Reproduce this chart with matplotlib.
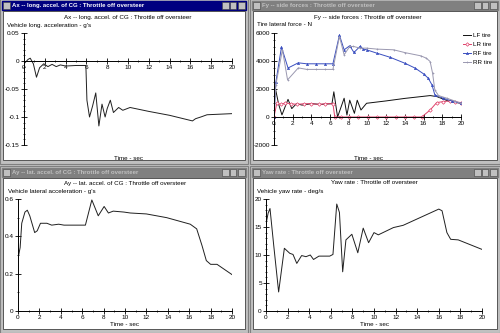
import matplotlib.pyplot as plt
from matplotlib.patches import Rectangle
from matplotlib.ticker import MultipleLocator, FuncFormatter

plt.rcParams['font.family'] = ['Liberation Sans', 'DejaVu Sans']

# --- data ---
# Ax, long. accel (g's)
ax_t = [0, 0.4, 0.6, 0.9, 1.2, 1.5, 1.9, 2.3, 2.7, 3.1, 3.5, 4.0, 5.0, 5.95, 6.05,
        6.3, 6.6, 6.9, 7.2, 7.5, 7.8, 8.0, 8.3, 8.6, 9.1, 9.5, 10.2, 12, 14, 16.2,
        16.5, 17.0, 17.6, 20]
ax_g = [-0.005, 0.003, 0.005, -0.005, -0.029, -0.012, -0.005, -0.010, -0.006, -0.010,
        -0.007, -0.009, -0.008, -0.008, -0.07, -0.1, -0.08, -0.057, -0.116, -0.077,
        -0.1, -0.085, -0.07, -0.092, -0.083, -0.088, -0.083, -0.09, -0.097, -0.107,
        -0.103, -0.1, -0.096, -0.094]

# Fy, side forces (N)
lf_t = [0, 0.1, 0.5, 0.85, 1.5, 1.9, 2.4, 3, 4, 5, 6.2, 6.4, 6.8, 7.5, 7.8, 8.1,
        8.6, 8.9, 9.3, 9.9, 12, 14, 16.7, 17.4, 18.8, 20]
lf_n = [0, 2200, 900, 150, 1260, 600, 950, 850, 950, 900, 950, 1800, 0, 1340, 140,
        1200, 260, 1200, 500, 980, 1150, 1330, 1530, 1460, 1100, 980]
lr_t = [0, 0.3, 0.7, 1.2, 1.8, 2.5, 3.2, 4, 4.8, 5.5, 6.3, 6.5, 7.2, 8, 9, 10, 11,
        12, 13, 14, 15, 15.8, 16.7, 17.4, 18.1, 18.8, 19.4, 20]
lr_n = [0, 1000, 900, 1000, 950, 900, 950, 950, 900, 950, 950, 0, 0, 0, 0, 0, 0, 0,
        0, 0, 0, 0, 500, 1030, 1100, 1150, 1080, 1030]
rf_t = [0, 0.2, 0.8, 1.5, 2.6, 3.5, 4.5, 5.5, 6.3, 7.0, 7.5, 8.1, 8.55, 9.2, 9.55,
        9.9, 11, 12.4, 14, 15.1, 16, 16.5, 16.9, 17.2, 18.1, 19, 20]
rf_n = [0, 2500, 5000, 3500, 3870, 3800, 3800, 3800, 3800, 5850, 4800, 5090, 4610,
        5040, 4850, 4800, 4560, 4270, 3840, 3490, 3080, 2770, 2290, 1580, 1340, 1150, 980]
rr_t = [0, 0.2, 0.9, 1.45, 2.6, 3.5, 4.5, 5.5, 6.3, 7.0, 7.5, 8.1, 8.5, 9.2, 9.9,
        11, 12.8, 14, 15.7, 16.3, 16.7, 16.96, 17.2, 17.6, 18.5, 19.3, 20]
rr_n = [0, 2300, 4800, 2650, 3510, 3400, 3400, 3400, 3400, 5750, 4440, 5040, 5040,
        4920, 4920, 4850, 4800, 4600, 4370, 4200, 3960, 3130, 1930, 1530, 1340, 1150, 980]

# Ay, lat. accel (g's)
ay_t = [0, 0.2, 0.35, 0.65, 0.87, 1.1, 1.56, 1.8, 2.1, 2.7, 3.15, 3.8, 4.3, 5.5, 6.3,
        6.9, 7.5, 8.05, 8.45, 8.9, 9.9, 10.5, 12, 13.9, 16.1, 16.7, 17.2, 17.6, 18.0,
        18.6, 20]
ay_g = [0.28, 0.34, 0.47, 0.53, 0.54, 0.51, 0.42, 0.43, 0.47, 0.47, 0.46, 0.465,
        0.46, 0.46, 0.46, 0.595, 0.51, 0.56, 0.525, 0.535, 0.53, 0.525, 0.52, 0.50,
        0.465, 0.44, 0.35, 0.27, 0.25, 0.25, 0.195]

# Yaw rate (deg/s)
yaw_t = [0, 0.2, 0.37, 0.7, 1.17, 1.7, 2.2, 2.5, 2.85, 3.3, 3.7, 4.1, 4.4, 4.9, 5.9,
         6.2, 6.55, 6.8, 7.1, 7.4, 7.95, 8.5, 9.0, 9.5, 10.0, 10.4, 11.8, 12.7, 16.0,
         16.3, 16.75, 17.1, 17.8, 20]
yaw_d = [15.5, 17.5, 18.3, 12.0, 3.4, 11.2, 10.3, 10.1, 8.5, 9.9, 9.7, 10.0, 9.2,
         9.8, 9.8, 10.1, 19.1, 17.6, 7.0, 12.7, 13.7, 10.4, 14.8, 12.2, 14.0, 13.6,
         14.9, 15.3, 18.2, 17.9, 14.0, 12.8, 12.7, 11.0]

W, H = 500, 333
fig = plt.figure(figsize=(5, 3.33), dpi=100)
bg = fig.add_axes([0, 0, 1, 1])
bg.set_xlim(0, W)
bg.set_ylim(H, 0)
bg.axis('off')
bg.add_patch(Rectangle((0, 0), W, H, color='#c0c0c0'))


def window(x0, y0, x1, y1, caption, active):
    bg.add_patch(Rectangle((x0, y0), x1 - x0, y1 - y0, facecolor='#c0c0c0',
                           edgecolor='#808080', lw=0.8))
    bar = '#000080' if active else '#808080'
    txt = 'white' if active else '#c0c0c0'
    bg.add_patch(Rectangle((x0 + 2, y0 + 2), x1 - x0 - 4, 9, color=bar))
    bg.add_patch(Rectangle((x0 + 3, y0 + 3), 7, 7, facecolor='#c0c0c0',
                           edgecolor='#404040', lw=0.4))
    bg.text(x0 + 12, y0 + 6.7, caption, color=txt, fontsize=4.3,
            fontweight='bold', va='center')
    for i in range(3):
        bx = x1 - 26 + i * 7.5 + (1 if i == 2 else 0)
        bg.add_patch(Rectangle((bx, y0 + 3), 6.5, 7, facecolor='#c0c0c0',
                               edgecolor='#404040', lw=0.4))
    bg.add_patch(Rectangle((x0 + 3, y0 + 12), x1 - x0 - 6, y1 - y0 - 16,
                           facecolor='white', edgecolor='#404040', lw=0.6))


window(0, -1, 248, 164, 'Ax -- long. accel. of CG : Throttle off oversteer', True)
window(250, -1, 500, 164, 'Fy -- side forces : Throttle off oversteer', False)
window(0, 166, 248, 333, 'Ay -- lat. accel. of CG : Throttle off oversteer', False)
window(250, 166, 500, 333, 'Yaw rate : Throttle off oversteer', False)


def px_axes(x0, ytop, x1, ybot):
    a = fig.add_axes([x0 / W, 1 - ybot / H, (x1 - x0) / W, (ybot - ytop) / H])
    a.patch.set_alpha(0)
    for s in ['top', 'right']:
        a.spines[s].set_visible(False)
    a.spines['left'].set_position(('data', 0))
    a.spines['bottom'].set_position(('data', 0))
    for s in ['left', 'bottom']:
        a.spines[s].set_linewidth(0.7)
    a.tick_params(which='major', direction='inout', length=4, width=0.6,
                  labelsize=4.6, pad=1)
    a.tick_params(which='minor', direction='inout', length=2, width=0.5)
    a.xaxis.set_major_locator(MultipleLocator(2))
    a.xaxis.set_minor_locator(MultipleLocator(1))
    a.yaxis.set_major_formatter(FuncFormatter(lambda v, p: '%g' % v))
    a.set_xlim(0, 20)
    return a


def labels(cx, top, title, ylab, x0):
    bg.text(cx, top + 17, title, fontsize=4.5, ha='center', va='center')
    bg.text(x0, top + 25, ylab, fontsize=4.5, ha='left', va='center')
    bg.text(cx, top + 158, 'Time - sec', fontsize=4.5, ha='center', va='center')


lw = 0.7

a1 = px_axes(24, 33, 232, 145)
a1.plot(ax_t, ax_g, color='#202020', lw=lw)
a1.set_ylim(-0.15, 0.05)
a1.yaxis.set_major_locator(MultipleLocator(0.05))
a1.yaxis.set_minor_locator(MultipleLocator(0.01))
labels(128, 0, 'Ax -- long. accel. of CG : Throttle off oversteer',
       "Vehicle long. acceleration - g's", 7)

a2 = px_axes(274, 33, 461, 145)
a2.plot(lf_t, lf_n, color='#101010', lw=lw, label='LF tire')
a2.plot(lr_t, lr_n, color='#e0406a', lw=lw, marker='D', ms=1.8, mfc='white',
        mew=0.5, label='LR tire')
a2.plot(rf_t, rf_n, color='#3a4fc0', lw=lw, marker='^', ms=1.8, mew=0.3,
        label='RF tire')
a2.plot(rr_t, rr_n, color='#9a98b0', lw=lw, marker='+', ms=2, mew=0.5,
        label='RR tire')
a2.set_ylim(-2000, 6000)
a2.yaxis.set_major_locator(MultipleLocator(2000))
a2.yaxis.set_minor_locator(MultipleLocator(500))
a2.legend(loc='upper left', bbox_to_anchor=(463 / W, 1 - 33 / H),
          bbox_transform=fig.transFigure, frameon=False, fontsize=4.5,
          handlelength=1.3, handletextpad=0.3, labelspacing=0.55,
          borderpad=0, borderaxespad=0)
labels(368, 0, 'Fy -- side forces : Throttle off oversteer',
       'Tire lateral force - N', 257)

a3 = px_axes(18, 199, 232, 311)
a3.plot(ay_t, ay_g, color='#202020', lw=lw)
a3.set_ylim(0, 0.6)
a3.yaxis.set_major_locator(MultipleLocator(0.2))
a3.yaxis.set_minor_locator(MultipleLocator(0.1))
labels(125, 166, 'Ay -- lat. accel. of CG : Throttle off oversteer',
       "Vehicle lateral acceleration - g's", 8)

a4 = px_axes(266, 199, 482, 311)
a4.plot(yaw_t, yaw_d, color='#202020', lw=lw)
a4.set_ylim(0, 20)
a4.yaxis.set_major_locator(MultipleLocator(5))
a4.yaxis.set_minor_locator(MultipleLocator(1))
labels(374, 166, 'Yaw rate : Throttle off oversteer',
       'Vehicle yaw rate - deg/s', 257)

fig.savefig('out.png', dpi=100)
